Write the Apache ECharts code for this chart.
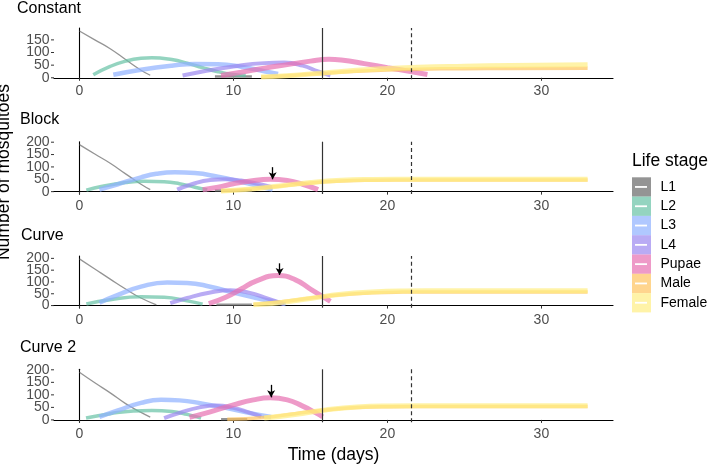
<!DOCTYPE html>
<html>
<head>
<meta charset="utf-8">
<script src="https://cdn.jsdelivr.net/npm/echarts@6/dist/echarts.min.js"></script>
<style>
  html, body { margin: 0; padding: 0; background: #fff; }
  #main { width: 709px; height: 465px; }
</style>
</head>
<body>
<div id="main"></div>
<script>
// panels and life stages
var panels = ['Constant', 'Block', 'Curve', 'Curve 2'];
var stages = ['L1', 'L2', 'L3', 'L4', 'Pupae', 'Male', 'Female'];
var xTicks = [0, 10, 20, 30];
var yTicksFirst = [0, 50, 100, 150];
var yTicks = [0, 50, 100, 150, 200];

// vertical reference lines (days)
var solidDay = 15.8;
var dashedDay = 21.55;

// arrows on the pupae peak: [day, from, to] per panel
var arrowDay = [null, 12.55, 13.0, 12.45];
var arrowFrom = [null, 99, 179, 140];
var arrowTo = [null, 50, 130, 90];

// Constant
var constant_L1 = [[0,185],[1,150],[2,115],[3,72],[4,30],[4.6,10]];
var constant_L1b = [[8.8,5],[11.2,5]];
var constant_L2 = [[0.9,12],[2,45],[3,66],[4,77],[4.7,79],[6,72],[7,58],[8,40],[9,24],[10,13],[10.8,9]];
var constant_L3 = [[2.2,12],[4,32],[6,48],[7.5,55],[9,54],[10.5,44],[12,26],[12.9,15]];
var constant_L4 = [[6.7,9],[8,25],[10,45],[12,58],[13.3,60],[14.5,48],[15.5,25],[16.3,9]];
var constant_Pupae = [[9.2,9],[10.5,22],[12,38],[13.5,52],[15,66],[16.2,73],[17,70],[18.5,56],[20,40],[21.5,25],[22.6,13]];
var constant_Male = [[11.8,3],[14,10],[16,18],[18,26],[20,31],[22,34],[25,36],[28,37],[33,38]];
var constant_Female = [[11.8,3],[14,10],[16,20],[18,30],[20,37],[22,42],[25,46],[28,49],[33,52]];

// Block
var block_L1 = [[0,190],[1,152],[2,115],[3,72],[4,30],[4.6,8]];
var block_L1b = [[8.8,5],[11.2,5]];
var block_L2 = [[0.45,6],[1.5,22],[3,37],[4.2,42],[5.5,40],[6.5,32],[7.5,18],[8.3,7]];
var block_L3 = [[1.3,8],[2.5,30],[4,58],[5,72],[6.2,78],[7.5,75],[9,60],[10.5,40],[11.8,20],[12.55,8]];
var block_L4 = [[6.35,8],[7.3,30],[8.5,47],[9.5,50],[10.5,45],[11.5,33],[12.5,18]];
var block_Pupae = [[8,8],[9,18],[10,32],[11,42],[12.4,50],[13.5,45],[14.5,30],[15.5,8]];
var block_Male = [[9.2,3],[11,10],[13,22],[15,35],[17,43],[19,46],[22,47],[33,47]];
var block_Female = [[9.2,3],[11,10],[13,23],[15,37],[17,46],[19,49],[22,50],[33,50]];

// Curve
var curve_L1 = [[0,198],[1,155],[2,112],[3,70],[4,32],[5,3]];
var curve_L1b = [[8.9,3],[11.2,3]];
var curve_L2 = [[0.45,7],[2,25],[4,37],[5.5,35],[7,20],[8,6]];
var curve_L3 = [[1.3,12],[2.5,45],[4,80],[5.7,98],[7,96],[8.5,80],[10,55],[11.5,32],[12.5,18],[13.4,6]];
var curve_L4 = [[5.9,10],[7,32],[8.5,55],[9.8,65],[11,55],[12,35],[13.3,6]];
var curve_Pupae = [[8.4,8],[9.5,35],[10.5,70],[11.5,105],[12.9,127],[14,110],[15,70],[15.8,38],[16.3,18]];
var curve_Male = [[11.3,5],[13,15],[15,32],[17,46],[19,54],[21,57],[24,58],[33,58]];
var curve_Female = [[11.3,3],[13,12],[15,30],[17,48],[19,58],[21,62],[24,63],[33,63]];

// Curve 2
var curve2_L1 = [[0,190],[1,148],[2,108],[3,65],[4,30],[4.6,11]];
var curve2_L1b = [[9.2,3],[10.9,3]];
var curve2_L2 = [[0.43,8],[2,25],[3.5,36],[4.7,38],[6,34],[7,22],[7.9,7]];
var curve2_L3 = [[1.3,12],[2.5,38],[4,68],[5.3,80],[6.5,78],[8,65],[9.5,48],[11,28],[12.45,12]];
var curve2_L4 = [[5.5,7],[6.5,28],[7.8,50],[8.9,58],[10,48],[11,30],[11.8,13]];
var curve2_Pupae = [[7.15,10],[8.5,32],[10,60],[11.3,80],[12.4,88],[13.5,80],[14.5,55],[15.3,30],[15.8,12]];
var curve2_Male = [[9.6,3],[12,10],[14,25],[16,40],[18,50],[20,53],[24,54],[33,54]];
var curve2_Female = [[12,8],[14,22],[16,40],[18,52],[20,56],[24,57],[33,57]];

var panelData = [
  {L1: constant_L1, L1b: constant_L1b, L2: constant_L2, L3: constant_L3, L4: constant_L4, Pupae: constant_Pupae, Male: constant_Male, Female: constant_Female},
  {L1: block_L1, L1b: block_L1b, L2: block_L2, L3: block_L3, L4: block_L4, Pupae: block_Pupae, Male: block_Male, Female: block_Female},
  {L1: curve_L1, L1b: curve_L1b, L2: curve_L2, L3: curve_L3, L4: curve_L4, Pupae: curve_Pupae, Male: curve_Male, Female: curve_Female},
  {L1: curve2_L1, L1b: curve2_L1b, L2: curve2_L2, L3: curve2_L3, L4: curve2_L4, Pupae: curve2_Pupae, Male: curve2_Male, Female: curve2_Female}
];

var colors = {L1: '#666666', L1b: '#666666', L2: '#66c2a5', L3: '#8fb0ff', L4: '#9b87f0', Pupae: '#e76fb0', Male: '#ffc35e', Female: '#ffee83'};
var widths = {L1: 1.3, L1b: 2.5, L2: 3.5, L3: 4.5, L4: 4, Pupae: 5, Male: 3.5, Female: 5};

// layout of the 4 panels
var gridLeft = 54;
var gridTop = [28, 141.7, 256, 369.3];
var gridHeight = [51.3, 52.3, 51.7, 53];
var yMin = [-6, -9.5, -9, -9.5];
var yMax = [197, 202, 210, 202];
var titleY = [10, 121, 237, 349];
var titleX = [17, 20, 21, 20];

var grids = [], xAxes = [], yAxes = [], series = [], graphics = [];

panels.forEach(function (name, i) {
  grids.push({left: gridLeft, width: 559, top: gridTop[i], height: gridHeight[i]});
  xAxes.push({
    type: 'value', gridIndex: i, min: -1.65, max: 34.65,
    splitLine: {show: false},
    axisLine: {lineStyle: {color: '#000', width: 1.1}},
    axisTick: {customValues: xTicks, length: 3, lineStyle: {color: '#333'}},
    axisLabel: {customValues: xTicks, color: '#4d4d4d', fontSize: 14, margin: 5, fontFamily: 'Liberation Sans'}
  });
  // y labels/ticks are placed below from the axis scale (they overlap, so echarts would thin them)
  yAxes.push({
    type: 'value', gridIndex: i, min: yMin[i], max: yMax[i],
    splitLine: {show: false},
    axisLine: {show: true, lineStyle: {color: '#000', width: 1.1}},
    axisTick: {show: false},
    axisLabel: {show: false}
  });

  var order = ['L1', 'L1b', 'L2', 'L3', 'L4', 'Pupae', 'Male', 'Female'];
  order.forEach(function (st) {
    var s = {
      type: 'line', name: st, xAxisIndex: i, yAxisIndex: i,
      data: panelData[i][st], showSymbol: false, smooth: 0.5,
      silent: true, animation: false,
      lineStyle: {color: colors[st], width: widths[st], opacity: 0.7, cap: 'butt'},
      itemStyle: {color: colors[st]}
    };
    if (st === 'L1') {
      var ml = [
        {xAxis: solidDay, lineStyle: {type: 'solid', color: '#333', width: 1.2, opacity: 1}},
        {xAxis: dashedDay, lineStyle: {type: [4, 3], color: '#333', width: 1.2, opacity: 1}}
      ];
      if (arrowDay[i] !== null) {
        ml.push([
          {coord: [arrowDay[i], arrowFrom[i]], symbol: 'none', lineStyle: {type: 'solid', color: '#000', width: 1.3, opacity: 1}},
          {coord: [arrowDay[i], arrowTo[i]], symbol: 'arrow', symbolSize: [6, 7]}
        ]);
      }
      s.markLine = {silent: true, symbol: 'none', label: {show: false}, animation: false, data: ml};
    }
    series.push(s);
  });

  graphics.push({
    type: 'text', left: titleX[i], top: titleY[i] - 9,
    style: {text: name, fontSize: 16, fill: '#000', fontFamily: 'Liberation Sans'}
  });
});

// axis titles
graphics.push({
  type: 'text', x: 333.5, y: 455,
  style: {text: 'Time (days)', fontSize: 17.5, fill: '#000', align: 'center', verticalAlign: 'middle', fontFamily: 'Liberation Sans'}
});
graphics.push({
  type: 'text', x: 4, y: 172, rotation: Math.PI / 2,
  style: {text: 'Number of mosquitoes', fontSize: 17.5, fill: '#000', align: 'center', verticalAlign: 'middle', fontFamily: 'Liberation Sans'}
});

// legend
graphics.push({
  type: 'text', x: 632, y: 161,
  style: {text: 'Life stage', fontSize: 17.5, fill: '#000', verticalAlign: 'middle', fontFamily: 'Liberation Sans'}
});
stages.forEach(function (st, k) {
  var y0 = 177.3 + k * 19.3;
  graphics.push({
    type: 'rect', shape: {x: 632, y: y0, width: 19, height: 19.3},
    style: {fill: colors[st], opacity: 0.7}
  });
  graphics.push({
    type: 'line', shape: {x1: 635, y1: y0 + 9.65, x2: 647, y2: y0 + 9.65},
    style: {stroke: '#fff', lineWidth: 1.8}
  });
  graphics.push({
    type: 'text', x: 660.5, y: y0 + 9.65,
    style: {text: st, fontSize: 14, fill: '#000', verticalAlign: 'middle', fontFamily: 'Liberation Sans'}
  });
});

var chart = echarts.init(document.getElementById('main'), null, {renderer: 'canvas'});
chart.setOption({
  animation: false,
  backgroundColor: '#fff',
  grid: grids,
  xAxis: xAxes,
  yAxis: yAxes,
  series: series,
  graphic: graphics
});

// y tick labels and tick marks, positioned through each panel's y scale
panels.forEach(function (name, i) {
  var yt = i === 0 ? yTicksFirst : yTicks;
  yt.forEach(function (v) {
    var py = chart.convertToPixel({yAxisIndex: i}, v);
    graphics.push({
      type: 'line', shape: {x1: gridLeft - 3, y1: py, x2: gridLeft, y2: py},
      style: {stroke: '#333', lineWidth: 1}
    });
    graphics.push({
      type: 'text', x: gridLeft - 4.5, y: py,
      style: {text: String(v), fontSize: 14, fill: '#4d4d4d', align: 'right', verticalAlign: 'middle', fontFamily: 'Liberation Sans'}
    });
  });
});
chart.setOption({graphic: graphics});
</script>
</body>
</html>
